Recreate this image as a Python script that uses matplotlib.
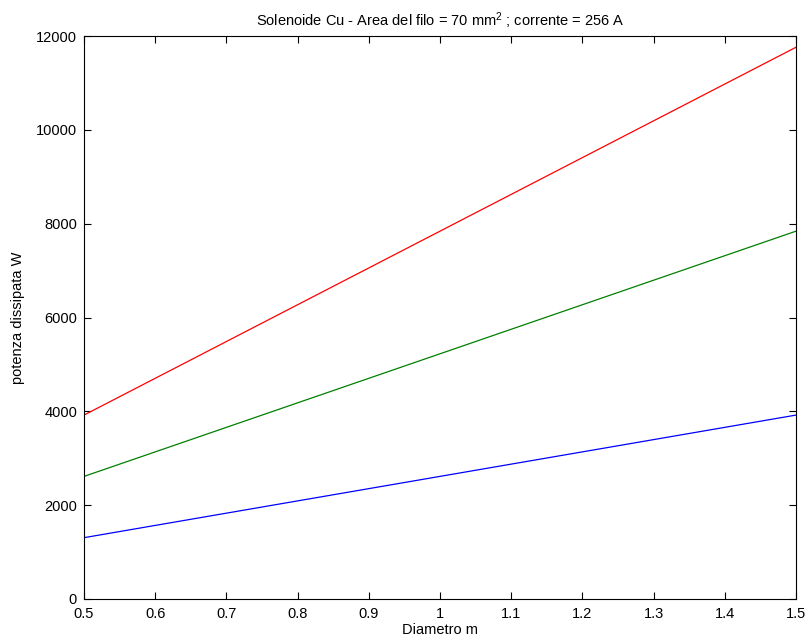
import matplotlib
matplotlib.use("Agg")
import matplotlib.pyplot as plt

plt.rcParams['font.family'] = ['Liberation Sans', 'DejaVu Sans']
plt.rcParams['mathtext.fontset'] = 'custom'
plt.rcParams['mathtext.rm'] = 'Liberation Sans'
plt.rcParams['mathtext.it'] = 'Liberation Sans:italic'

diametro = [0.5, 0.8, 1.2, 1.5]
p_rosso = [3920, 6272, 9408, 11760]
p_verde = [2613, 4181, 6272, 7840]
p_blu = [1307, 2091, 3136, 3920]

fig = plt.figure(figsize=(8.11, 6.43), dpi=100)
ax = fig.add_axes([84/811, 1-599/643, (796-84)/811, (599-36)/643])
ax.plot(diametro, p_blu, color='#0000ff', lw=0.9)
ax.plot(diametro, p_verde, color='#008000', lw=0.9)
ax.plot(diametro, p_rosso, color='#ff0000', lw=0.9)
ax.set_xlim(0.5, 1.5)
ax.set_ylim(0, 12000)
ax.set_xticks([0.5, 0.6, 0.7, 0.8, 0.9, 1.0, 1.1, 1.2, 1.3, 1.4, 1.5])
ax.set_xticklabels(['0.5', '0.6', '0.7', '0.8', '0.9', '1', '1.1', '1.2', '1.3', '1.4', '1.5'])
ax.set_yticks(range(0, 12001, 2000))
ax.tick_params(direction='in', top=True, right=True, labelsize=10.5, length=5, width=0.8)
ax.tick_params(axis='x', pad=6)
ax.tick_params(axis='y', pad=5)
for s in ax.spines.values():
    s.set_linewidth(0.8)
ax.set_xlabel('Diametro m', fontsize=10.5, labelpad=1)
ax.set_ylabel('potenza dissipata W', fontsize=10.5, labelpad=8)
ax.set_title('Solenoide Cu - Area del filo = 70 mm$^{\\mathrm{2}}$ ; corrente = 256 A', fontsize=10.5, pad=7)
fig.savefig('out.png', dpi=100)
